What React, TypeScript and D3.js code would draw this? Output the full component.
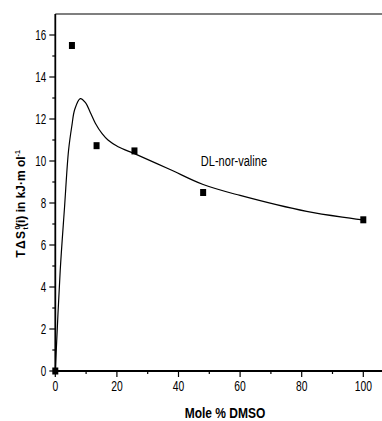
import React from "react";
import * as d3 from "d3";

const pointX = [0, 5.4, 13.4, 25.7, 48, 100];
const pointY = [0, 15.5, 10.73, 10.48, 8.5, 7.2];

const curveX = [0, 1.6, 3, 4.3, 5.4, 6.3, 8.1, 9.8, 11.4, 13.0, 15.2, 17.1, 20.4, 25.7, 36.9, 48, 60, 81.6, 100];
const curveY = [0, 4.8, 7.8, 10.5, 11.7, 12.45, 12.97, 12.78, 12.3, 11.8, 11.3, 11.0, 10.68, 10.35, 9.62, 8.88, 8.36, 7.6, 7.19];

const xMajor = [0, 20, 40, 60, 80, 100];
const xMinor = [10, 30, 50, 70, 90];
const yMajor = [0, 2, 4, 6, 8, 10, 12, 14, 16];
const yMinor = [1, 3, 5, 7, 9, 11, 13, 15];

const seriesLabel = "DL-nor-valine";
const xTitle = "Mole % DMSO";

const W = 382;
const H = 421;
const sans = "'Liberation Sans', Arial, sans-serif";

export default function App() {
  const x = d3.scaleLinear().domain([0, 106]).range([55.3, 55.3 + 106 * 3.08]);
  const y = d3.scaleLinear().domain([0, 17]).range([371, 14]);
  const line = d3
    .line<number>()
    .x((_, i) => x(curveX[i]))
    .y((d) => y(d))
    .curve(d3.curveCatmullRom.alpha(0.5));
  const x0 = x(0);
  const y0 = y(0);
  return (
    <svg width={W} height={H} style={{ position: "absolute", left: 0, top: 0 }}>
      <rect width={W} height={H} fill="#fff" />
      <line x1={x0} x2={W} y1={y(17)} y2={y(17)} stroke="#000" strokeWidth={1.2} />
      <line x1={x0} x2={x0} y1={y(17)} y2={y0 + 1} stroke="#000" strokeWidth={1.8} />
      <line x1={x0 - 1} x2={W} y1={y0} y2={y0} stroke="#000" strokeWidth={1.8} />
      {yMajor.map((v) => (
        <g key={"ym" + v}>
          <line x1={x0 - 6} x2={x0} y1={y(v)} y2={y(v)} stroke="#000" strokeWidth={1.2} />
          <text
            transform={`translate(${x0 - 9},${y(v)}) scale(0.82,1.15)`}
            dy="0.35em"
            textAnchor="end"
            fontFamily={sans}
            fontSize={12}
          >
            {v}
          </text>
        </g>
      ))}
      {yMinor.map((v) => (
        <line key={"yn" + v} x1={x0 - 3} x2={x0} y1={y(v)} y2={y(v)} stroke="#000" strokeWidth={1.2} />
      ))}
      {xMajor.map((v) => (
        <g key={"xm" + v}>
          <line x1={x(v)} x2={x(v)} y1={y0} y2={y0 + 6} stroke="#000" strokeWidth={1.2} />
          <text
            transform={`translate(${x(v)},${y0 + 15}) scale(0.9,1.3)`}
            dy="0.35em"
            textAnchor="middle"
            fontFamily={sans}
            fontSize={11.5}
          >
            {v}
          </text>
        </g>
      ))}
      {xMinor.map((v) => (
        <line key={"xn" + v} x1={x(v)} x2={x(v)} y1={y0} y2={y0 + 3} stroke="#000" strokeWidth={1.2} />
      ))}
      <path d={line(curveY) || ""} fill="none" stroke="#000" strokeWidth={1.2} />
      {pointX.map((v, i) => (
        <rect key={"p" + i} x={x(v) - 3} y={y(pointY[i]) - 3.5} width={6} height={7} fill="#000" />
      ))}
      <text
        transform={`translate(${x(58)},${y(10)}) scale(0.92,1.25)`}
        dy="0.35em"
        textAnchor="middle"
        fontFamily={sans}
        fontSize={12}
      >
        {seriesLabel}
      </text>
      <text
        transform={`translate(225,413) scale(1,1.25)`}
        dy="0.35em"
        textAnchor="middle"
        fontFamily={sans}
        fontWeight="bold"
        fontSize={12}
      >
        {xTitle}
      </text>
      <text
        transform="translate(25,204) rotate(-90)"
        textAnchor="middle"
        fontFamily={sans}
        fontWeight="bold"
        fontSize={12}
      >
        <tspan letterSpacing={1.5}>T&#916;S</tspan>
        <tspan dy={-5} fontSize={7}>0</tspan>
        <tspan dx={-3.9} dy={8} fontSize={7}>t</tspan>
        <tspan dy={-3}>(i) in kJ&#183;m ol</tspan>
        <tspan dy={-5} fontSize={7}>-1</tspan>
      </text>
    </svg>
  );
}
